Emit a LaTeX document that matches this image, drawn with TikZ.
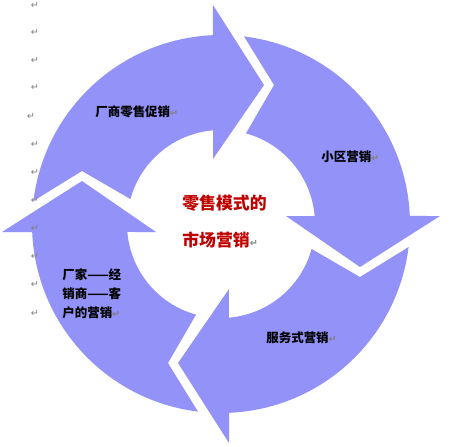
\documentclass[tikz,border=0pt]{standalone}
\usepackage{fontspec}
\setmainfont{Noto Sans CJK SC}
\newfontfamily\markfont{DejaVu Sans}
\definecolor{ringblue}{RGB}{146,146,248}
\definecolor{titlered}{RGB}{192,0,0}
\definecolor{markgray}{RGB}{128,128,128}
\newcommand{\retsym}{{\markfont\fontsize{5.5}{6}\selectfont\color{markgray}↵}}

\begin{document}
\begin{tikzpicture}[x=0.02cm, y=0.02cm,
    lbltext/.style={font=\bfseries\fontsize{7.1}{10.8}\selectfont, inner sep=0pt, anchor=west, align=left},
    retmark/.style={inner sep=0pt, font=\markfont\fontsize{5.5}{6}\selectfont, text=markgray}]
    \useasboundingbox (0,0) rectangle (454,-447);

    % Four block arrows round the ring
    \foreach \a in {0,-90,-180,-270}{
        \fill[ringblue, shift={(221,-224)}, rotate=\a]
            (173:189) arc[start angle=173, end angle=92.43, radius=189]
            -- (-8,219) -- (43,139) -- (-8,65)
            -- (94.88:94) arc[start angle=94.88, end angle=164.6, radius=94]
            -- (-139,53) -- cycle;
    }

    % Paragraph marks down the left
    \foreach \x/\y [count=\i] in {35/5, 35/32, 35/60, 35/87, 31/116, 35/144,
                                  35/172, 35/200, 35/228, 35/256, 35/284, 35/313}
        \node[retmark] (ret\i) at (\x,-\y) {↵};

    % Arrow labels
    \node[lbltext] (promo) at (95,-112) {厂商零售促销\retsym};
    \node[lbltext] (community) at (321,-157) {小区营销\retsym};
    \node[lbltext] (service) at (266,-338) {服务式营销\retsym};
    \node[lbltext] (channel) at (62,-294) {厂家——经\\销商——客\\户的营销\retsym};

    % Centre title
    \node[lbltext, font=\bfseries\fontsize{9.6}{21}\selectfont, text=titlered] (title)
        at (182,-221.5) {零售模式的\\市场营销\retsym};
\end{tikzpicture}
\end{document}
